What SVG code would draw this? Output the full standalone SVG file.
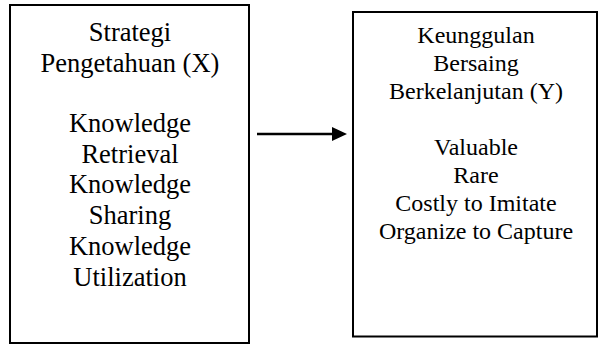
<svg xmlns="http://www.w3.org/2000/svg" width="599" height="345" viewBox="0 0 599 345">
  <style>
    .box { fill: #ffffff; stroke: #000000; stroke-width: 2; }
    .lbl { font-family: "Liberation Serif", "Times New Roman", serif; fill: #000000; text-anchor: middle; }
    .lg { font-size: 26.5px; }
    .sm { font-size: 24px; }
    .conn { stroke: #000000; stroke-width: 2.5; fill: none; }
  </style>
  <rect width="599" height="345" fill="#ffffff"/>

  <!-- Independent variable -->
  <g id="node-x">
    <rect class="box" x="10" y="5" width="239" height="338"/>
    <text class="lbl lg" x="130" y="41">Strategi</text>
    <text class="lbl lg" x="130" y="72">Pengetahuan (X)</text>
    <text class="lbl lg" x="130" y="132">Knowledge</text>
    <text class="lbl lg" x="130" y="163">Retrieval</text>
    <text class="lbl lg" x="130" y="193">Knowledge</text>
    <text class="lbl lg" x="130" y="224">Sharing</text>
    <text class="lbl lg" x="130" y="255">Knowledge</text>
    <text class="lbl lg" x="130" y="286">Utilization</text>
  </g>

  <!-- Dependent variable -->
  <g id="node-y">
    <rect class="box" x="353" y="12" width="244" height="324.5"/>
    <text class="lbl sm" x="476" y="43">Keunggulan</text>
    <text class="lbl sm" x="476" y="71">Bersaing</text>
    <text class="lbl sm" x="476" y="99">Berkelanjutan (Y)</text>
    <text class="lbl sm" x="476" y="155">Valuable</text>
    <text class="lbl sm" x="476" y="183">Rare</text>
    <text class="lbl sm" x="476" y="211">Costly to Imitate</text>
    <text class="lbl sm" x="476" y="239">Organize to Capture</text>
  </g>

  <!-- Connectors -->
  <g id="connectors">
    <line class="conn" x1="257" y1="134" x2="334" y2="134"/>
    <polygon points="332,127 347,134 332,141" fill="#000000"/>
  </g>
</svg>
